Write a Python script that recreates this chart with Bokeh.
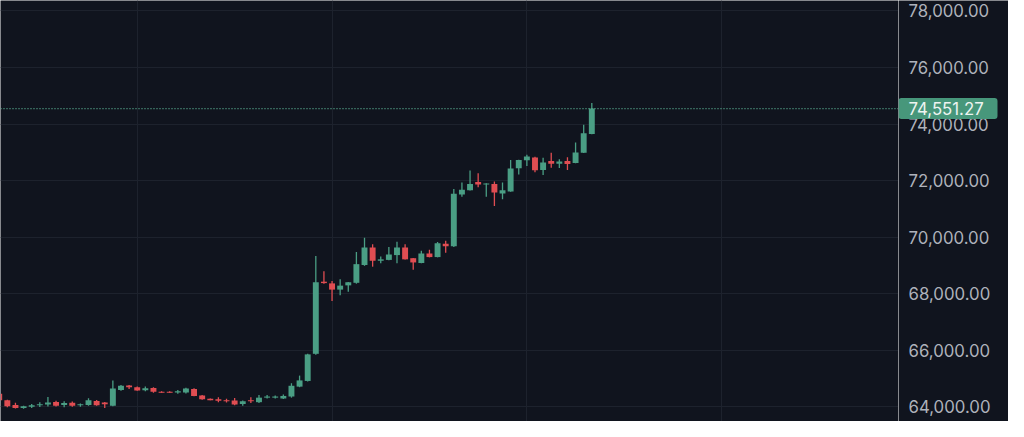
from bokeh.plotting import figure
from bokeh.layouts import row
from bokeh.models import ColumnDataSource, FixedTicker, Span, Range1d
from bokeh.core.properties import value
from bokeh.embed import file_html
from bokeh.resources import INLINE

# ---- data (hourly candles) ----
opens = [64470, 64240, 64070, 63960, 64010, 64060, 64090, 64180, 64070, 64150,
         64060, 64070, 64210, 64160, 64045, 64600, 64760, 64700, 64590, 64670,
         64540, 64540, 64510, 64510, 64640, 64410, 64290, 64270, 64240, 64230,
         64110, 64240, 64170, 64330, 64330, 64300, 64370, 64720, 64920, 65880,
         68430, 68370, 68150, 68300, 68390, 69020, 69640, 69170, 69200, 69370,
         69640, 69260, 69090, 69430, 69300, 69770, 69680, 71510, 71660, 71950,
         71870, 71880, 71550, 71620, 72440, 72720, 72820, 72380, 72700, 72600,
         72700, 72630, 72990, 73650]
highs = [64560, 64260, 64150, 64040, 64110, 64170, 64350, 64220, 64200, 64190,
         64120, 64310, 64250, 64180, 64940, 64780, 64780, 64720, 64720, 64700,
         64560, 64560, 64600, 64680, 64660, 64420, 64300, 64340, 64290, 64320,
         64230, 64340, 64420, 64420, 64410, 64440, 64840, 65110, 65880, 69340,
         68800, 68450, 68520, 68420, 69480, 69980, 69750, 69320, 69660, 69840,
         69750, 69270, 69520, 69560, 69830, 69880, 71710, 71940, 72360, 72260,
         71910, 71970, 71940, 72730, 72740, 72920, 72850, 72810, 72990, 72760,
         72830, 73350, 73980, 74750]
lows = [64200, 63990, 63950, 63940, 63960, 64000, 64020, 64020, 63990, 64010,
        64010, 64040, 64040, 63960, 64030, 64570, 64640, 64570, 64560, 64500,
        64500, 64500, 64470, 64480, 64380, 64260, 64240, 64170, 64160, 64060,
        64040, 64140, 64140, 64300, 64300, 64280, 64330, 64700, 64900, 65850,
        68360, 67750, 67950, 68070, 68360, 68990, 68960, 69080, 69190, 69080,
        69210, 68850, 69080, 69290, 69290, 69450, 69660, 71430, 71650, 71770,
        71430, 71110, 71340, 71610, 72220, 72520, 72300, 72200, 72460, 72450,
        72380, 72620, 72980, 73640]
closes = [64240, 64030, 63960, 64030, 64060, 64100, 64160, 64045, 64140, 64040,
          64100, 64240, 64060, 64100, 64655, 64750, 64700, 64580, 64660, 64540,
          64500, 64500, 64560, 64650, 64390, 64270, 64240, 64220, 64200, 64090,
          64200, 64200, 64330, 64370, 64370, 64390, 64750, 64940, 65860, 68410,
          68380, 68150, 68290, 68410, 69050, 69640, 69170, 69220, 69390, 69640,
          69220, 69110, 69430, 69300, 69790, 69680, 71540, 71680, 71880, 71870,
          71900, 71580, 71660, 72430, 72730, 72860, 72370, 72640, 72600, 72680,
          72590, 73000, 73680, 74551.27]
last_price = 74551.27
price_ticks = [64000, 66000, 68000, 70000, 72000, 74000, 76000, 78000]
price_tick_labels = [f"{t:,.2f}" for t in price_ticks]
day_ticks = [17, 41, 65, 89]

BG = "#10141e"
GRID = "#1d222d"
UP = "#4a9e84"
DOWN = "#e04d52"
DOTS = "#5bb394"
LABEL_BG = "#47977b"
AXIS_TEXT = "#aeb2bb"
FONT = "Inter"
FONT_SIZE = "16.8px"

idx = list(range(len(opens)))
colors = [UP if c >= o else DOWN for o, c in zip(opens, closes)]
src = ColumnDataSource(dict(
    x=idx,
    o=opens, h=highs, l=lows, c=closes,
    top=[max(o, c) for o, c in zip(opens, closes)],
    bottom=[min(o, c) for o, c in zip(opens, closes)],
    color=colors,
))

y_range = Range1d(63487, 78371)

# ---- main candle pane ----
p = figure(frame_width=898, frame_height=421, min_border=0,
           x_range=(0.158, 110.78), y_range=y_range,
           output_backend="svg", toolbar_location=None,
           x_axis_location=None, y_axis_location=None,
           background_fill_color=BG, border_fill_color=BG, outline_line_color=None)
p.xgrid.ticker = FixedTicker(ticks=day_ticks)
p.xgrid.grid_line_color = GRID
p.ygrid.ticker = FixedTicker(ticks=price_ticks)
p.ygrid.grid_line_color = GRID

p.segment(x0="x", y0="l", x1="x", y1="h", color="color", line_width=1.3, source=src)
p.vbar(x="x", width=0.73, top="top", bottom="bottom", fill_color="color",
       line_color=None, source=src)
p.add_layout(Span(location=last_price, dimension="width", line_color=DOTS,
                  line_dash="1 2", line_width=1.2))

# ---- price scale pane (shares the y scale) ----
s = figure(frame_width=110, frame_height=421, min_border=0,
           x_range=(0, 110), y_range=y_range,
           output_backend="svg", toolbar_location=None,
           x_axis_location=None, y_axis_location=None,
           background_fill_color=BG, border_fill_color=BG, outline_line_color=None)
s.grid.visible = False

tick_src = ColumnDataSource(dict(y=price_ticks, label=price_tick_labels))
s.text(x=10, y="y", text="label", source=tick_src, text_align="left",
       text_baseline="middle", text_font=value(FONT), text_font_size=FONT_SIZE,
       text_color=AXIS_TEXT)

last_src = ColumnDataSource(dict(y=[last_price], label=[f"{last_price:,.2f}"]))
s.rect(x=49.5, y="y", width=99, height=21, height_units="screen", source=last_src,
       fill_color=LABEL_BG, line_color=None, border_radius=3)
s.text(x=10, y="y", text="label", source=last_src, text_align="left",
       text_baseline="middle", text_font=value(FONT), text_font_size=FONT_SIZE,
       text_color="#eef4f1")

layout = row(p, s, spacing=0)
open("out.html", "w").write(file_html(layout, INLINE))
